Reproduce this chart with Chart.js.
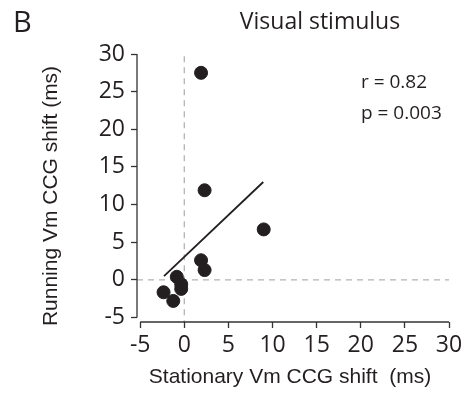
<!DOCTYPE html>
<html lang="en">
<head>
    <meta charset="UTF-8">
    <title>Visual stimulus</title>
    <style>
        html, body { margin: 0; padding: 0; background: #fff; }
        #wrap { width: 469px; height: 395px; }
    </style>
</head>
<body>
<script src="https://cdn.jsdelivr.net/npm/chart.js@4.4.1/dist/chart.umd.min.js"></script>
<div id="wrap"><canvas id="scatter"></canvas></div>

<script>
    // values (ms)
    var stationaryShift = [1.9, 2.3, 9.0, 1.9, 2.3, -0.85, -0.35, -0.35, -2.35, -1.25];
    var runningShift = [27.5, 11.9, 6.7, 2.6, 1.3, 0.4, -0.6, -1.2, -1.65, -2.8];
    var fitX = [-2.3, 8.95];
    var fitY = [0.5, 13.0];
    var tickValues = [-5, 0, 5, 10, 15, 20, 25, 30];
    var xRange = [-5.36, 30];
    var yRange = [-5.6, 30];
    var zeroLineTop = 29.7;

    var points = [];
    for (var i = 0; i < stationaryShift.length; i++) {
        points.push({x: stationaryShift[i], y: runningShift[i]});
    }
    var fitLine = [{x: fitX[0], y: fitY[0]}, {x: fitX[1], y: fitY[1]}];
    var vZero = [{x: 0, y: zeroLineTop}, {x: 0, y: yRange[0]}];
    var hZero = [{x: xRange[0], y: 0}, {x: xRange[1], y: 0}];

    var tickFont = {family: "'Open Sans'", size: 23};

    // axis lines only span the labelled range, like the original
    var axisLines = {
        id: 'axisLines',
        afterDatasetsDraw: function (chart) {
            var ctx = chart.ctx, xs = chart.scales.x, ys = chart.scales.y;
            var first = tickValues[0], last = tickValues[tickValues.length - 1];
            ctx.save();
            ctx.strokeStyle = '#333';
            ctx.lineWidth = 1.3;
            ctx.beginPath();
            ctx.moveTo(xs.left, ys.getPixelForValue(first));
            ctx.lineTo(xs.left, ys.getPixelForValue(last));
            ctx.moveTo(xs.getPixelForValue(first), ys.bottom);
            ctx.lineTo(xs.getPixelForValue(last), ys.bottom);
            ctx.stroke();
            ctx.restore();
        },
        afterDraw: function (chart) {
            var ctx = chart.ctx;
            ctx.save();
            ctx.fillStyle = '#231f20';
            ctx.textBaseline = 'middle';
            ctx.font = "29px 'Open Sans'";
            ctx.textAlign = 'left';
            ctx.fillText('B', 13, 24);
            ctx.font = "23px 'Open Sans'";
            ctx.textAlign = 'center';
            ctx.fillText('Visual stimulus', 320, 22);
            ctx.font = "19px 'Open Sans'";
            ctx.textAlign = 'left';
            ctx.fillText('r = 0.82', 361, 83);
            ctx.fillText('p = 0.003', 361, 114);
            ctx.font = "21px 'Liberation Sans'";
            ctx.textAlign = 'center';
            ctx.fillText('Stationary Vm CCG shift  (ms)', 290, 377);
            ctx.translate(51, 196);
            ctx.rotate(-Math.PI / 2);
            ctx.fillText('Running Vm CCG shift (ms)', 0, 0);
            ctx.restore();
        }
    };

    new Chart(document.getElementById("scatter"), {
        type: 'scatter',
        data: {
            datasets: [
                {
                    label: 'cells',
                    data: points,
                    backgroundColor: '#231f20',
                    borderColor: '#231f20',
                    pointRadius: 6.5,
                    pointHoverRadius: 6.5
                },
                {
                    type: 'line',
                    label: 'fit',
                    data: fitLine,
                    borderColor: '#231f20',
                    borderWidth: 1.8,
                    pointRadius: 0,
                    fill: false
                },
                {
                    type: 'line',
                    label: 'x0',
                    data: vZero,
                    borderColor: '#b3b3b3',
                    borderWidth: 1.3,
                    borderDash: [6, 5],
                    pointRadius: 0,
                    fill: false
                },
                {
                    type: 'line',
                    label: 'y0',
                    data: hZero,
                    borderColor: '#b3b3b3',
                    borderWidth: 1.3,
                    borderDash: [6, 5],
                    pointRadius: 0,
                    fill: false
                }
            ]
        },
        options: {
            responsive: true,
            maintainAspectRatio: false,
            animation: false,
            layout: {padding: {left: 0, top: 54, right: 20, bottom: 0}},
            plugins: {legend: {display: false}, tooltip: {enabled: false}, title: {display: false}},
            scales: {
                x: {
                    type: 'linear',
                    min: xRange[0],
                    max: xRange[1],
                    afterBuildTicks: function (axis) {
                        axis.ticks = tickValues.map(function (v) { return {value: v}; });
                    },
                    afterFit: function (axis) { axis.height = 73; },
                    border: {display: false},
                    grid: {drawOnChartArea: false, drawTicks: true, tickLength: 6, tickColor: '#333', tickWidth: 1.3},
                    ticks: {color: '#231f20', font: tickFont, padding: 4, maxRotation: 0, autoSkip: false}
                },
                y: {
                    type: 'linear',
                    min: yRange[0],
                    max: yRange[1],
                    afterBuildTicks: function (axis) {
                        axis.ticks = tickValues.map(function (v) { return {value: v}; });
                    },
                    afterFit: function (axis) { axis.width = 137; },
                    border: {display: false},
                    grid: {drawOnChartArea: false, drawTicks: true, tickLength: 6, tickColor: '#333', tickWidth: 1.3},
                    ticks: {color: '#231f20', font: tickFont, padding: 6, autoSkip: false}
                }
            }
        },
        plugins: [axisLines]
    });
</script>
</body>
</html>
